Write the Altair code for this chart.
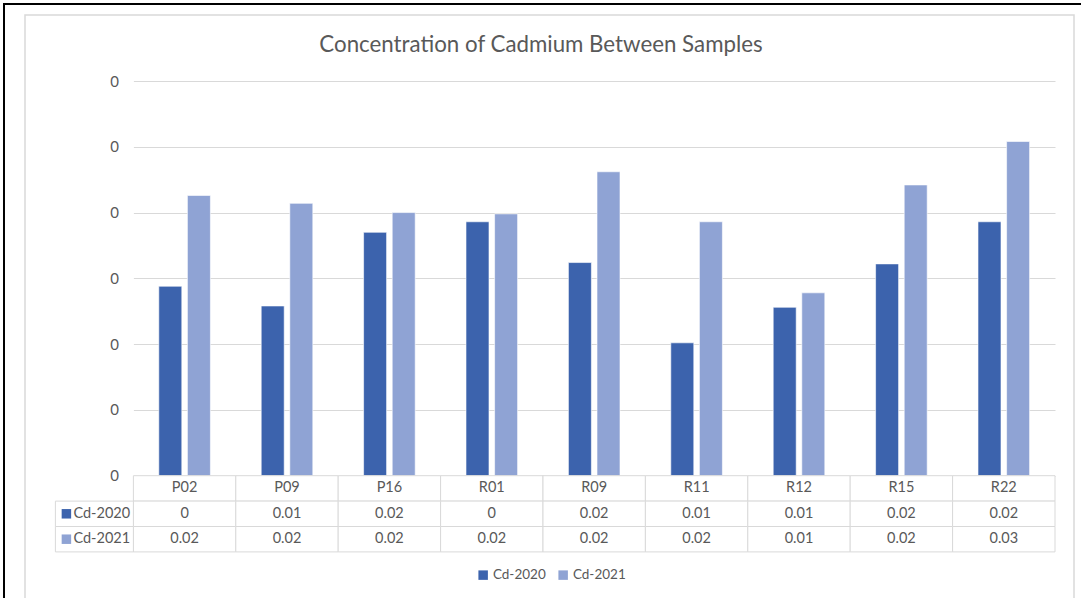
import altair as alt
import pandas as pd

# Cadmium concentration per sample, two sampling years
samples = ["P02", "P09", "P16", "R01", "R09", "R11", "R12", "R15", "R22"]
cd_2020 = [0.0144, 0.0129, 0.0185, 0.0193, 0.0162, 0.0101, 0.0128, 0.0161, 0.0193]
cd_2021 = [0.0213, 0.0207, 0.0200, 0.0199, 0.0231, 0.0193, 0.0139, 0.0221, 0.0254]
# decimal places used by each cell of the data table
decimals_2020 = [0, 2, 2, 0, 2, 2, 2, 2, 2]
decimals_2021 = [2, 2, 2, 2, 2, 2, 2, 2, 2]
series = ["Cd-2020", "Cd-2021"]
colors = ["#3C63AD", "#8FA3D4"]
y_ticks = [0, 0.005, 0.01, 0.015, 0.02, 0.025, 0.03]
title_text = "Concentration of Cadmium Between Samples"

FONT = "Lato"
TEXT = "#595959"
GRID = "#D9D9D9"

W, H = 921.6, 394.7          # plot area
ROW_H = 25.4                 # data-table row height
LABEL_COL = 78               # width of the table's series-name column

# long-form data for the bars
bar_rows = []
for s, a, b in zip(samples, cd_2020, cd_2021):
    bar_rows.append({"sample": s, "series": series[0], "value": a})
    bar_rows.append({"sample": s, "series": series[1], "value": b})
bar_df = pd.DataFrame(bar_rows)

# data table cells: header row of sample names, then one row per series
table_rows = ["header"] + series
cell_rows = []
for s in samples:
    cell_rows.append({"sample": s, "row": "header", "label": s})
for name, vals, decs in ((series[0], cd_2020, decimals_2020), (series[1], cd_2021, decimals_2021)):
    for s, v, d in zip(samples, vals, decs):
        cell_rows.append({"sample": s, "row": name, "label": f"{v:.{d}f}"})
cell_df = pd.DataFrame(cell_rows)
name_df = pd.DataFrame({"row": series, "series": series})

x_scale = alt.Scale(domain=samples, paddingInner=0, paddingOuter=0)
color_scale = alt.Scale(domain=series, range=colors)
row_scale = alt.Scale(domain=table_rows, range=[H, H + 3 * ROW_H], paddingInner=0, paddingOuter=0)

one = pd.DataFrame({"title": [title_text]})

# page frame and chart-area frame
outer_frame = alt.Chart(one).mark_rect(fillOpacity=0, stroke="black", strokeWidth=2).encode(
    x=alt.value(-129.4), x2=alt.value(1000), y=alt.value(-77), y2=alt.value(600)
)
chart_frame = alt.Chart(one).mark_rect(fillOpacity=0, stroke=GRID, strokeWidth=1.5).encode(
    x=alt.value(-108.4), x2=alt.value(940.6), y=alt.value(-66), y2=alt.value(600)
)

heading = alt.Chart(one).mark_text(font=FONT, fontSize=22.3, color=TEXT, baseline="middle").encode(
    x=alt.value(407.6), y=alt.value(-36), text="title:N"
)

bars = alt.Chart(bar_df).mark_bar(stroke="white", strokeWidth=0.6).encode(
    x=alt.X("sample:N", sort=samples, scale=x_scale, axis=None),
    xOffset=alt.XOffset("series:N", sort=series,
                        scale=alt.Scale(domain=series, paddingInner=0.196, paddingOuter=0.888)),
    y=alt.Y("value:Q", scale=alt.Scale(domain=[0, 0.03], nice=False, zero=True),
            axis=alt.Axis(values=y_ticks, format=".0f", title=None, domain=False, ticks=False,
                          grid=True, gridColor=GRID, gridWidth=1, labelPadding=15,
                          labelFont=FONT, labelFontSize=15, labelColor=TEXT)),
    color=alt.Color("series:N", scale=color_scale,
                    legend=alt.Legend(title=None, orient="none", direction="horizontal",
                                      legendX=343, legendY=487, symbolType="square",
                                      symbolSize=90, symbolStrokeWidth=0, labelFont=FONT,
                                      labelFontSize=13.5, labelColor=TEXT, columnPadding=10,
                                      labelOffset=3, padding=0)),
)

cells = alt.Chart(cell_df).mark_rect(fill="white", stroke=GRID, strokeWidth=1).encode(
    x=alt.X("sample:N", sort=samples, scale=x_scale, axis=None),
    y=alt.Y("row:N", sort=table_rows, scale=row_scale, axis=None),
)
cell_text = alt.Chart(cell_df).mark_text(font=FONT, fontSize=14.5, color=TEXT).encode(
    x=alt.X("sample:N", sort=samples, scale=x_scale, axis=None),
    y=alt.Y("row:N", sort=table_rows, scale=row_scale, axis=None),
    text="label:N",
)

name_cells = alt.Chart(name_df).mark_rect(fill="white", stroke=GRID, strokeWidth=1).encode(
    x=alt.value(-LABEL_COL), x2=alt.value(0),
    y=alt.Y("row:N", sort=table_rows, scale=row_scale, axis=None),
)
name_keys = alt.Chart(name_df).mark_square(size=90, opacity=1).encode(
    x=alt.value(-67),
    y=alt.Y("row:N", sort=table_rows, scale=row_scale, axis=None),
    color=alt.Color("series:N", scale=color_scale),
)
name_text = alt.Chart(name_df).mark_text(font=FONT, fontSize=14.5, color=TEXT, align="left").encode(
    x=alt.value(-60),
    y=alt.Y("row:N", sort=table_rows, scale=row_scale, axis=None),
    text="row:N",
)

chart = (
    alt.layer(outer_frame, chart_frame, heading, bars, cells, cell_text,
              name_cells, name_keys, name_text)
    .resolve_scale(y="independent")
    .properties(
        width=W, height=H,
        padding={"left": 133.4, "top": 81, "right": 26, "bottom": 122.3},
        autosize=alt.AutoSizeParams(type="none"),
        background="white",
    )
    .configure_view(stroke=None)
)

chart.save("out.html", embed_options={"renderer": "svg", "actions": False})
